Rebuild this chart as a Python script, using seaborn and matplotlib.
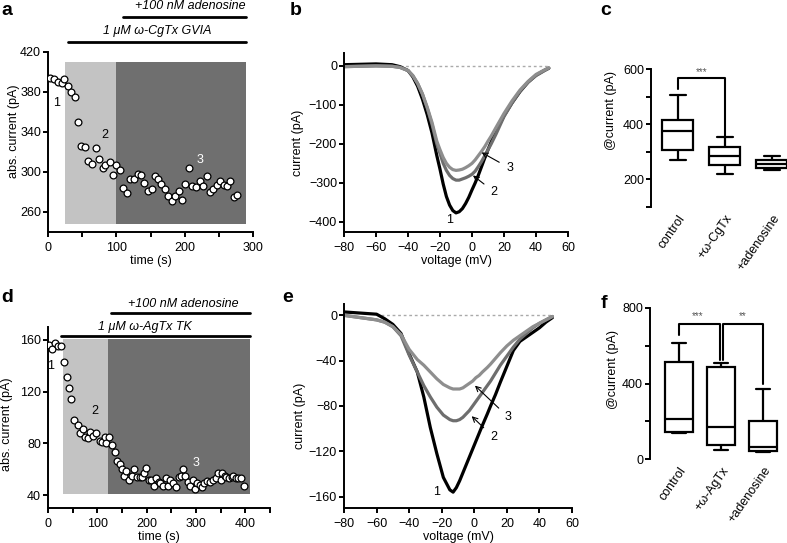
import numpy as np
import pandas as pd
import matplotlib
matplotlib.use('Agg')
import matplotlib.pyplot as plt
import seaborn as sns

# ---- panel a: time course, omega-CgTx GVIA ----
a_t = [3, 9, 15, 20, 24, 29, 34, 39, 44, 49, 54, 59, 64, 70, 75, 80, 84, 90, 95, 100,
       105, 110, 115, 120, 126, 131, 136, 141, 146, 152, 156, 161, 166, 171, 176, 181, 186, 191, 196, 201,
       206, 211, 217, 222, 227, 232, 237, 242, 247, 252, 257, 262, 267, 272, 277]
a_y = [394, 393, 390, 389, 393, 386, 380, 375, 350, 326, 325, 311, 308, 324, 313, 304, 307, 310, 297, 307,
       302, 284, 279, 293, 293, 298, 297, 289, 281, 283, 296, 293, 288, 283, 276, 271, 276, 281, 272, 288,
       304, 286, 285, 291, 286, 296, 280, 283, 287, 291, 287, 286, 291, 275, 277]
a_toxin = (25, 100)      # light shading
a_ado = (100, 290)       # dark shading

# ---- panel d: time course, omega-AgTx TK ----
d_t = [3, 9, 14, 21, 26, 33, 39, 42, 46, 52, 61, 65, 70, 76, 81, 85, 91, 97, 105, 110,
       115, 118, 124, 130, 135, 140, 145, 149, 155, 159, 164, 170, 175, 180, 186, 191, 195, 199, 204, 209,
       214, 219, 224, 228, 234, 239, 244, 248, 253, 259, 265, 270, 274, 278, 283, 288, 293, 298, 303, 308,
       313, 317, 322, 328, 334, 340, 345, 350, 353, 358, 361, 367, 372, 376, 381, 386, 391, 397]
d_y = [156, 153, 158, 155, 155, 143, 131, 123, 114, 98, 94, 88, 91, 85, 84, 89, 86, 88, 82, 81,
       85, 80, 85, 79, 73, 66, 64, 60, 55, 59, 52, 55, 60, 54, 54, 54, 57, 61, 52, 52,
       47, 53, 50, 49, 47, 53, 47, 52, 49, 46, 54, 55, 60, 55, 50, 47, 52, 45, 49, 48,
       46, 49, 51, 50, 52, 53, 57, 52, 57, 55, 54, 53, 54, 55, 53, 53, 53, 47]
d_toxin = (30, 122)
d_ado = (122, 409)

# ---- panel b: I-V curves ----
b_v = [-80, -70, -60, -50, -45, -40, -37, -34, -31, -28, -25, -22, -20, -18, -16, -14, -12, -10, -8, -6,
       -4, -2, 0, 2, 4, 6, 8, 10, 12, 15, 20, 25, 30, 35, 40, 45, 48]
b_1 = [3, 4, 5, 3, -2, -12, -28, -52, -85, -125, -172, -230, -265, -303, -335, -357, -371, -377, -374, -366,
       -353, -337, -318, -300, -280, -258, -236, -215, -195, -168, -128, -95, -66, -42, -24, -12, -6]
b_2 = [-2, -1, 0, -1, -4, -12, -25, -45, -72, -108, -150, -200, -225, -250, -268, -281, -289, -293, -293, -290,
       -287, -283, -278, -270, -258, -245, -230, -215, -200, -175, -130, -95, -65, -42, -25, -13, -6]
b_3 = [-2, -1, 0, -1, -4, -12, -25, -45, -72, -106, -145, -193, -215, -235, -250, -260, -266, -268, -267, -265,
       -261, -256, -250, -241, -230, -219, -207, -193, -180, -158, -122, -90, -62, -40, -22, -11, -5]

# ---- panel e: I-V curves ----
e_v = [-80, -70, -60, -55, -50, -45, -40, -35, -31, -27, -23, -19, -15, -13, -11, -9, -7, -5, -3, -1,
       1, 3, 5, 8, 10, 13, 16, 20, 24, 28, 32, 36, 40, 44, 48]
e_1 = [3, 2, 1, -3, -8, -16, -34, -50, -72, -99, -122, -143, -154, -156, -152, -146, -139, -132, -125, -118,
       -111, -104, -97, -87, -80, -70, -59, -45, -31, -23, -19, -15, -11, -6, -2]
e_2 = [0, -2, -4, -6, -10, -18, -35, -50, -62, -72, -81, -88, -92, -93, -93, -92, -90, -87, -84, -80,
       -76, -72, -68, -62, -58, -51, -44, -36, -28, -21, -16, -11, -7, -4, -1]
e_3 = [0, -2, -4, -6, -10, -17, -30, -39, -44, -50, -56, -61, -64, -65, -65, -65, -64, -62, -60, -58,
       -55, -53, -50, -46, -43, -38, -33, -27, -22, -18, -14, -10, -7, -4, -1]

# ---- panels c / f: box plots (min, q1, median, q3, max) ----
c_labels = ['control', '+\u03c9-CgTx', '+adenosine']
c_control = [271, 306, 377, 416, 505]
c_cgtx = [218, 252, 285, 316, 352]
c_ado = [233, 243, 257, 270, 285]

f_labels = ['control', '+\u03c9-AgTx', '+adenosine']
f_control = [137, 143, 212, 513, 614]
f_agtx = [48, 74, 169, 487, 508]
f_ado = [35, 40, 63, 201, 370]

LIGHT = '#c3c3c3'
DARK = '#6f6f6f'
GRAY2 = '#6e6e6e'
GRAY3 = '#8e8e8e'

sns.set_style('ticks')
plt.rcParams['font.family'] = ['Liberation Sans', 'DejaVu Sans']
plt.rcParams.update({
    'axes.linewidth': 1.4, 'axes.edgecolor': 'black', 'axes.labelcolor': 'black',
    'text.color': 'black', 'xtick.color': 'black', 'ytick.color': 'black',
    'xtick.major.width': 1.4, 'ytick.major.width': 1.4,
    'xtick.minor.width': 1.4, 'ytick.minor.width': 1.4,
    'xtick.major.size': 3.5, 'ytick.major.size': 3.5,
    'xtick.minor.size': 3.5, 'ytick.minor.size': 3.5,
    'ytick.major.pad': 1.5,
    'font.size': 9, 'xtick.labelsize': 9, 'ytick.labelsize': 9, 'axes.labelsize': 9,
})

fig = plt.figure(figsize=(7.87, 5.43), dpi=100)


def ax_px(l, t, r, b):
    return fig.add_axes([l / 787, 1 - b / 543, (r - l) / 787, (b - t) / 543])


def time_course(ax, t, y, toxin, ado, shade_y, nums, bars, texts):
    ax.fill_between(list(toxin), shade_y[0], shade_y[1], color=LIGHT, lw=0, zorder=1)
    ax.fill_between(list(ado), shade_y[0], shade_y[1], color=DARK, lw=0, zorder=1)
    sns.scatterplot(x=t, y=y, ax=ax, color='white', edgecolor='black', s=24,
                    linewidth=0.9, zorder=3, legend=False)
    for (x, yy, s, col) in nums:
        ax.text(x, yy, s, ha='center', va='center', color=col, fontsize=9, zorder=4)
    for (x0, x1, yy) in bars:
        ax.plot([x0, x1], [yy, yy], color='black', lw=2, clip_on=False)
    for (x, yy, s) in texts:
        ax.text(x, yy, s, ha='center', va='center', style='italic', fontsize=9)
    sns.despine(ax=ax)
    ax.set_xlabel('time (s)', labelpad=1)
    ax.set_ylabel('abs. current (pA)')


def iv_curve(ax, v, traces, dot_from):
    ax.plot([dot_from, 48], [0, 0], color='#aaaaaa', lw=1, ls=(0, (2, 2)), zorder=1)
    for tr, col in traces:
        sns.lineplot(x=v, y=tr, ax=ax, color=col, lw=2.3, sort=False)
    sns.despine(ax=ax)
    ax.set_xlim(-80, 60)
    ax.set_xticks(range(-80, 61, 20))
    ax.set_xlabel('voltage (mV)', labelpad=1)
    ax.set_ylabel('current (pA)')


def boxes(ax, groups, labels, width):
    df = pd.DataFrame({'group': np.repeat(labels, 5),
                       'value': groups[0] + groups[1] + groups[2]})
    sns.boxplot(data=df, x='group', y='value', ax=ax, whis=(0, 100), width=width,
                color='white', linecolor='black', linewidth=1.6, showfliers=False)
    sns.despine(ax=ax, bottom=True)
    ax.tick_params(axis='x', length=0, pad=4)
    ax.set_xticks([0, 1, 2])
    ax.set_xticklabels(labels, rotation=55, ha='right', rotation_mode='anchor')
    ax.set_xlabel('')
    ax.set_ylabel('@current (pA)')


# panel a
ax = ax_px(48, 52, 253, 232)
time_course(ax, a_t, a_y, a_toxin, a_ado, (248, 410),
            [(12, 369, '1', 'black'), (83, 337, '2', 'black'), (222, 312, '3', 'white')],
            [(29, 290, 430), (110, 290, 455)],
            [(160, 441, '1 \u03bcM \u03c9-CgTx GVIA'), (208, 466, '+100 nM adenosine')])
ax.set_xlim(0, 300)
ax.set_ylim(240, 420)
ax.set_xticks([0, 100, 200, 300])
ax.set_xticks([50, 150, 250], minor=True)
ax.set_yticks([260, 300, 340, 380, 420])
ax.yaxis.set_label_coords(-0.137, 0.56)

# panel b
ax = ax_px(344, 53, 568, 232)
iv_curve(ax, b_v, [(b_1, 'black'), (b_2, GRAY2), (b_3, GRAY3)], -45)
ax.set_ylim(-426, 33)
ax.set_yticks([0, -100, -200, -300, -400])
ax.annotate('3', xy=(6, -222), xytext=(23.5, -262), ha='center', va='center',
            arrowprops=dict(arrowstyle='->', color='black', lw=0.8, shrinkA=3, shrinkB=0))
ax.annotate('2', xy=(0.6, -281), xytext=(13.8, -323), ha='center', va='center',
            arrowprops=dict(arrowstyle='->', color='black', lw=0.8, shrinkA=3, shrinkB=0))
ax.text(-14, -396, '1', ha='center', va='center')
ax.yaxis.set_label_coords(-0.179, 0.5)

# panel c
ax = ax_px(651, 69, 787, 207)
boxes(ax, [c_control, c_cgtx, c_ado], c_labels, 0.66)
ax.set_xlim(-0.574, 2.32)
ax.set_ylim(100, 600)
ax.set_yticks([100, 200, 300, 400, 500, 600])
ax.set_yticklabels(['', '200', '', '400', '', '600'])
ax.plot([0, 0, 1, 1], [529, 566, 566, 359], color='black', lw=1.5)
ax.text(0.5, 572, '***', ha='center', va='bottom', fontsize=7, color='#555555')
ax.yaxis.set_label_coords(-0.25, 0.70)

# panel d
ax = ax_px(48, 327, 270, 508)
time_course(ax, d_t, d_y, d_toxin, d_ado, (41, 161),
            [(5, 140, '1', 'black'), (95, 105, '2', 'black'), (300, 65, '3', 'white')],
            [(27, 409, 163.3), (128, 409, 180.7)],
            [(196, 170, '1 \u03bcM \u03c9-AgTx TK'), (274, 187.5, '+100 nM adenosine')])
ax.set_xlim(0, 450)
ax.set_ylim(30, 170)
ax.set_xticks([0, 100, 200, 300, 400])
ax.set_xticks([50, 150, 250, 350, 450], minor=True)
ax.set_yticks([40, 80, 120, 160])
ax.yaxis.set_label_coords(-0.158, 0.46)

# panel e
ax = ax_px(344, 304, 572, 508)
iv_curve(ax, e_v, [(e_1, 'black'), (e_2, GRAY2), (e_3, GRAY3)], -57)
ax.set_ylim(-170, 10)
ax.set_yticks([0, -40, -80, -120, -160])
ax.annotate('3', xy=(0.4, -62), xytext=(21, -90), ha='center', va='center',
            arrowprops=dict(arrowstyle='->', color='black', lw=0.8, shrinkA=3, shrinkB=0))
ax.annotate('2', xy=(-1.6, -89), xytext=(11.8, -107.5), ha='center', va='center',
            arrowprops=dict(arrowstyle='->', color='black', lw=0.8, shrinkA=3, shrinkB=0))
ax.text(-23, -156, '1', ha='center', va='center')
ax.yaxis.set_label_coords(-0.167, 0.45)

# panel f
ax = ax_px(650, 308, 787, 459)
boxes(ax, [f_control, f_agtx, f_ado], f_labels, 0.67)
ax.set_xlim(-0.69, 2.57)
ax.set_ylim(0, 800)
ax.set_yticks([0, 200, 400, 600, 800])
ax.set_yticklabels(['0', '', '400', '', '800'])
ax.plot([0, 0, 0.97, 0.97], [656, 714, 714, 524], color='black', lw=1.5)
ax.plot([1.05, 1.05, 2, 2], [524, 714, 714, 397], color='black', lw=1.5)
ax.text(0.45, 730, '***', ha='center', va='bottom', fontsize=7, color='#555555')
ax.text(1.52, 730, '**', ha='center', va='bottom', fontsize=7, color='#555555')
ax.yaxis.set_label_coords(-0.226, 0.59)

# panel letters
for x, y, s in [(1, 15, 'a'), (290, 15, 'b'), (600, 15, 'c'),
                (1, 302, 'd'), (282, 302, 'e'), (601, 308, 'f')]:
    fig.text(x / 787, 1 - y / 543, s, fontsize=14, fontweight='bold', va='baseline')

fig.savefig('out.png', dpi=100)
